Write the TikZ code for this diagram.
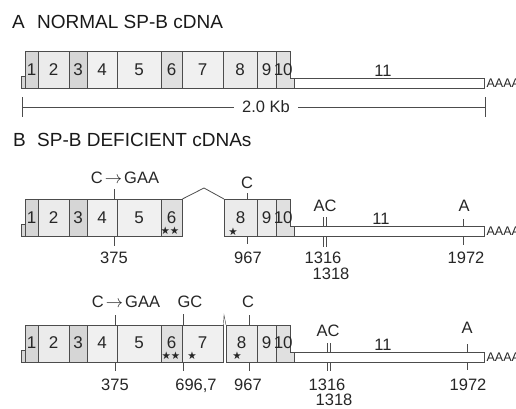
\documentclass[tikz,border=0pt]{standalone}
\usepackage{fontspec}
\setmainfont{Liberation Sans}
\newfontfamily\starfont{DejaVu Sans}

\begin{document}
\begin{tikzpicture}[x=1pt, y=-1pt]
  % Define exon box and label styles
  \tikzstyle{exonbox} = [draw=black!70, thin, rectangle, inner sep=0pt,
  anchor=north west, minimum height=37pt, text=black!85,
  font=\fontsize{17}{17}\selectfont]
  \tikzstyle{utrbox} = [exonbox, fill=white, minimum width=190pt, minimum height=10pt]
  \tikzstyle{numtxt} = [inner sep=0pt, anchor=base, text=black!85,
  font=\fontsize{16.5}{17}\selectfont]
  \tikzstyle{titletxt} = [inner sep=0pt, anchor=base west, text=black!90,
  font=\fontsize{19}{20}\selectfont]
  \tikzstyle{startxt} = [inner sep=0pt, text=black!85, font=\starfont\fontsize{10.5}{10.5}\selectfont]
  \tikzstyle{polya} = [inner sep=2pt, anchor=west, text=black!85, font=\fontsize{12.5}{12.5}\selectfont]
  \tikzstyle{tick} = [draw=black!70, thin]

  \useasboundingbox (0,0) rectangle (516,408);

  % A: normal cDNA
  \node[titletxt] (atitle) at (12,28) {A};
  \node[titletxt] (atext) at (37,28) {NORMAL SP-B cDNA};

  \foreach \xa/\xb/\ex/\tone in {25/38/1/16, 38/69/2/8, 69/87/3/16, 87/117/4/6,
    117/161/5/6, 161/182/6/12, 182/223/7/6, 223/257/8/8, 257/276/9/8, 276/290/10/12}{
    \pgfmathsetmacro{\exw}{\xb-\xa}
    \node[exonbox, fill=black!\tone, minimum width=\exw pt] (a\ex) at (\xa,51) {\makebox[0pt]{\ex}};
  }
  \fill[black!16] (21,76) rectangle (25.4,88);
  \draw[tick] (25,76) -- (21,76) -- (21,88) -- (25,88);
  \fill[black!12] (289.6,78) rectangle (294,88);
  \draw[tick] (290,78) -- (294,78) (290,88) -- (294,88);
  \node[utrbox] (a11) at (294,78) {};
  \node[numtxt] (a11t) at (383,76) {11};
  \node[polya] (a11pa) at (a11.east) {AAAA};

  % scale bar
  \coordinate (barL) at (22,107);
  \coordinate (barR) at (485,107);
  \node[numtxt, anchor=center, inner xsep=8pt] (kb) at (266,107) {2.0 Kb};
  \draw[tick] (barL) -- (kb);
  \draw[tick] (kb) -- (barR);
  \draw[tick] (22,97) -- (22,117);
  \draw[tick] (485,97) -- (485,117);

  % B: deficient cDNAs
  \node[titletxt] (btitle) at (13,146) {B};
  \node[titletxt] (btext) at (37,146) {SP-B DEFICIENT cDNAs};

  % first clone, exon 7 skipped
  \foreach \xa/\xb/\ex/\tone in {25/38/1/16, 38/69/2/8, 69/87/3/16, 87/117/4/6,
    117/161/5/6, 161/182/6/12, 224/257/8/8, 257/276/9/8, 276/290/10/12}{
    \pgfmathsetmacro{\exw}{\xb-\xa}
    \node[exonbox, fill=black!\tone, minimum width=\exw pt] (b\ex) at (\xa,199) {\makebox[0pt]{\ex}};
  }
  \fill[black!16] (21,224) rectangle (25.4,236);
  \draw[tick] (25,224) -- (21,224) -- (21,236) -- (25,236);
  \fill[black!12] (289.6,226) rectangle (294,236);
  \draw[tick] (290,226) -- (294,226) (290,236) -- (294,236);
  \node[utrbox] (b11) at (294,226) {};
  \node[numtxt] (b11t) at (381,224) {11};
  \node[polya] (b11pa) at (b11.east) {AAAA};
  \coordinate (bpeak) at (204,188);
  \draw[tick, thick] (b6.north east) -- (bpeak) -- (b8.north west);

  \node[startxt] (b6star) at (170,231) {★★};
  \node[startxt] (b8star) at (233,232) {★};

  \node[numtxt] (bm1) at (125,183) {C\kern2pt$\rightarrow$\kern2pt GAA};
  \draw[tick] (114,189) -- (114,199) (114,236) -- (114,246);
  \node[numtxt] (bp1) at (114,263) {375};
  \node[numtxt] (bm2) at (247,188) {C};
  \draw[tick] (247,193) -- (247,199) (247,236) -- (247,244);
  \node[numtxt] (bp2) at (248,263) {967};
  \node[numtxt] (bm3) at (325,211) {AC};
  \draw[tick] (323,217) -- (323,226) (326,217) -- (326,226)
    (323,236) -- (323,247) (326,236) -- (326,247);
  \node[numtxt] (bp3) at (323,263) {1316};
  \node[numtxt] (bp4) at (331,279) {1318};
  \node[numtxt] (bm4) at (464,211) {A};
  \draw[tick] (463,219) -- (463,226) (463,236) -- (463,245);
  \node[numtxt] (bp5) at (466,263) {1972};

  % second clone
  \foreach \xa/\xb/\ex/\tone in {25/38/1/16, 38/69/2/8, 69/87/3/16, 87/117/4/6,
    117/161/5/6, 161/182/6/12, 182/223/7/6, 226/257/8/8, 257/276/9/8, 276/290/10/12}{
    \pgfmathsetmacro{\exw}{\xb-\xa}
    \node[exonbox, fill=black!\tone, minimum width=\exw pt] (c\ex) at (\xa,325) {\makebox[0pt]{\raisebox{2pt}{\ex}}};
  }
  \fill[black!16] (21,350) rectangle (25.4,362);
  \draw[tick] (25,350) -- (21,350) -- (21,362) -- (25,362);
  \fill[black!12] (289.6,352) rectangle (294,362);
  \draw[tick] (290,352) -- (294,352) (290,362) -- (294,362);
  \node[utrbox] (c11) at (294,352) {};
  \node[numtxt] (c11t) at (383,350) {11};
  \node[polya] (c11pa) at (c11.east) {AAAA};
  \coordinate (cpeak) at (224,315);
  \draw[tick] (c7.north east) -- (cpeak) -- (c8.north west);

  \node[startxt] (c6star) at (171,356) {★★};
  \node[startxt] (c7star) at (192,356) {★};
  \node[startxt] (c8star) at (237,356) {★};

  \node[numtxt] (cm1) at (126,307) {C\kern2pt$\rightarrow$\kern2pt GAA};
  \draw[tick] (115,315) -- (115,325) (115,362) -- (115,371);
  \node[numtxt] (cp1) at (115,390) {375};
  \node[numtxt] (cm2) at (190,307) {GC};
  \draw[tick] (183,314) -- (183,325) (183,362) -- (183,371);
  \node[numtxt] (cp2) at (196,390) {696,7};
  \node[numtxt] (cm3) at (248,307) {C};
  \draw[tick] (249,315) -- (249,325) (249,362) -- (249,371);
  \node[numtxt] (cp3) at (248,390) {967};
  \node[numtxt] (cm4) at (328,336) {AC};
  \draw[tick] (327,343) -- (327,352) (330,343) -- (330,352)
    (327,362) -- (327,371) (330,362) -- (330,371);
  \node[numtxt] (cp4) at (327,390) {1316};
  \node[numtxt] (cp5) at (334,405) {1318};
  \node[numtxt] (cm5) at (467,333) {A};
  \draw[tick] (467,344) -- (467,352) (467,362) -- (467,370);
  \node[numtxt] (cp6) at (468,390) {1972};
\end{tikzpicture}
\end{document}
